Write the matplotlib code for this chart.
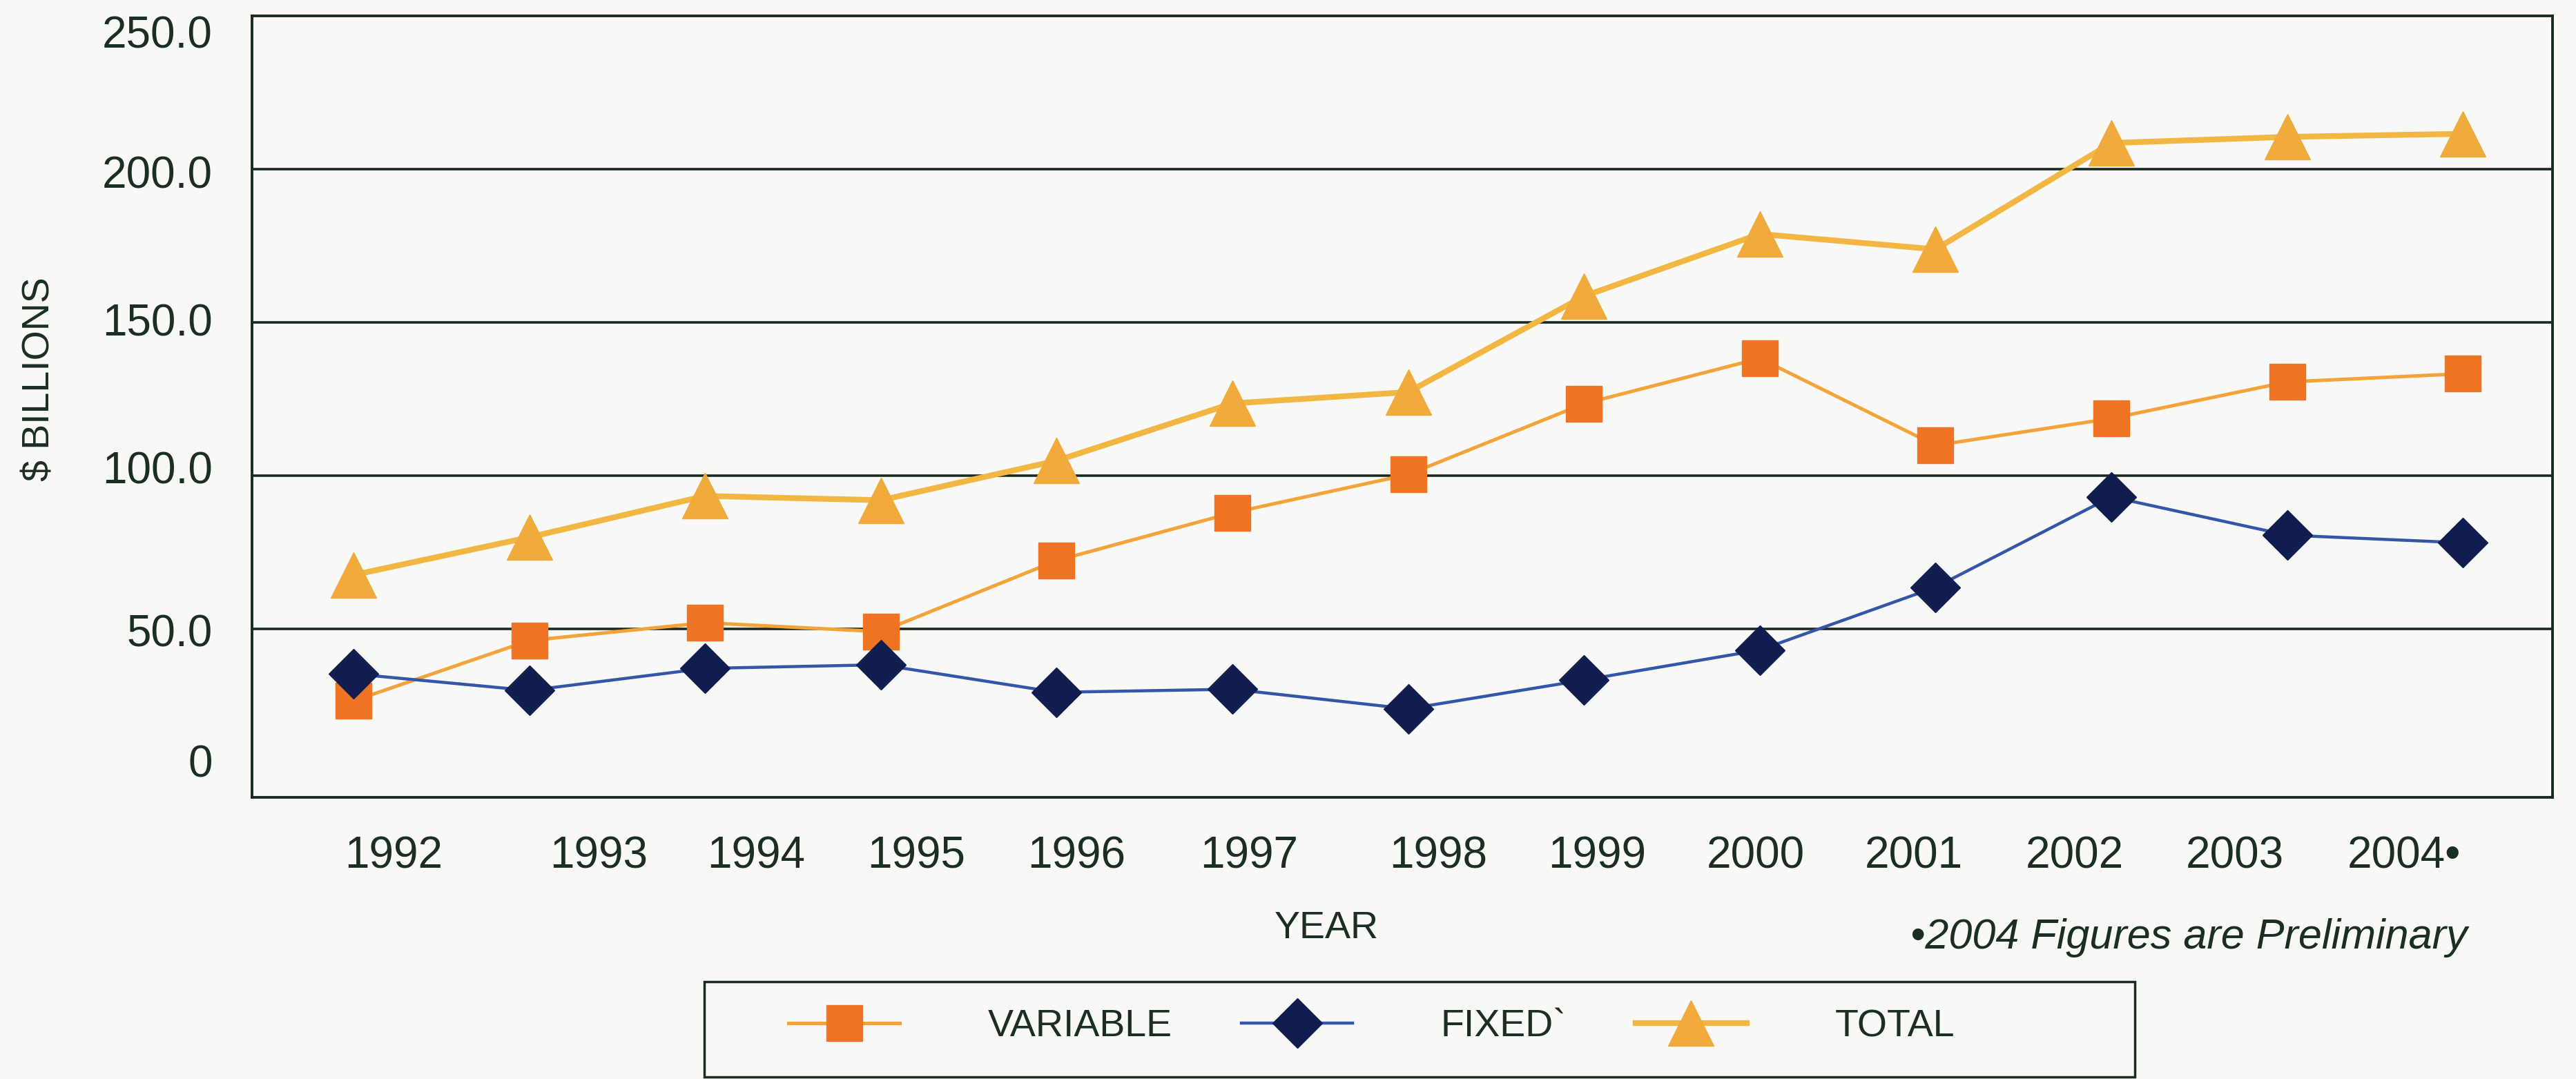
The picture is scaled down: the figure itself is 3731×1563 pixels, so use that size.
import matplotlib
matplotlib.use("Agg")
import matplotlib.pyplot as plt
from matplotlib.patches import Rectangle

plt.rcParams['font.family'] = ['Liberation Sans', 'DejaVu Sans']

# data ($ billions)
years = ["1992", "1993", "1994", "1995", "1996", "1997", "1998",
         "1999", "2000", "2001", "2002", "2003", "2004•"]
variable = [26.4, 46.1, 51.9, 49.0, 72.2, 87.8, 100.3, 123.4, 138.2, 109.8, 118.6, 130.5, 133.2]
fixed = [35.2, 29.8, 37.0, 38.2, 29.2, 30.2, 23.8, 33.2, 43.0, 63.5, 93.0, 80.5, 78.0]
total = [67.5, 79.8, 93.3, 91.9, 104.8, 123.5, 127.2, 158.5, 178.8, 173.8, 208.5, 210.5, 211.5]
ytick_labels = ["0", "50.0", "100.0", "150.0", "200.0", "250.0"]
grid_values = [50, 100, 150, 200]

# layout: the scan has labels a bit off the points/gridlines
xtick_pos = [0.228, 1.393, 2.292, 3.203, 4.113, 5.094, 6.170, 7.076, 7.975, 8.877, 9.792, 10.703, 11.664]
ytick_pos = [6.8, 49.4, 102.6, 150.8, 199.0, 244.8]

txt = '#1b2e22'
bg = '#f8f8f6'

fig = plt.figure(figsize=(37.31, 15.63), dpi=100, facecolor=bg)
ax = fig.add_axes([0.0978, 0.261, 0.8931, 0.7243])
ax.set_facecolor(bg)

x = list(range(len(years)))

# gridlines
for g in grid_values:
    ax.axhline(g, color='#1a2a1e', lw=2.6, zorder=1)

ax.plot(x, variable, color='#f3a33a', lw=3.6, marker='s', ms=38,
        markerfacecolor='#ee7322', markeredgecolor='#ee7322', label='VARIABLE', zorder=3)
ax.plot(x, fixed, color='#3456a8', lw=3.2, marker='D', ms=37,
        markerfacecolor='#111d4e', markeredgecolor='#111d4e', label='FIXED`', zorder=4)
ax.plot(x, total, color='#f2b642', lw=6, marker='^', ms=48,
        markerfacecolor='#f0aa3c', markeredgecolor='#f0aa3c', label='TOTAL', zorder=5)

ax.set_xlim(-0.578, 12.51)
ax.set_ylim(-5.1, 250)

ax.set_xticks(xtick_pos)
ax.set_xticklabels(years)
ax.set_yticks(ytick_pos)
ax.set_yticklabels(ytick_labels)
ax.tick_params(axis='x', length=0, pad=40, labelsize=46, labelcolor=txt)
ax.tick_params(axis='y', length=0, pad=41, labelsize=46, labelcolor=txt)

for s in ax.spines.values():
    s.set_color('#1a2a1e')
    s.set_linewidth(2.8)

fig.text(0.0153, 0.6488, "$ BILLIONS", rotation=90, ha='center', va='center',
         fontsize=40, color=txt)
fig.text(0.5149, 0.1395, "YEAR", ha='center', va='center', fontsize=40, color=txt)
fig.text(0.8497, 0.1310, "•2004 Figures are Preliminary", ha='center', va='center',
         fontsize=44, style='italic', color=txt)

leg = ax.legend(loc='center left', bbox_to_anchor=(1142 / 3731, 0.0486),
                bbox_transform=fig.transFigure, ncol=3, frameon=False,
                fontsize=40, handlelength=2.9, handletextpad=2.3, columnspacing=1.8,
                borderpad=0, borderaxespad=0, numpoints=1, labelcolor=txt)

fig.patches.append(Rectangle((1020 / 3731, 0.002), 2072 / 3731, 0.0882,
                             transform=fig.transFigure, fill=False,
                             edgecolor='#1a2a1e', lw=2.5))

fig.savefig('out.png', dpi=100, facecolor=bg)
